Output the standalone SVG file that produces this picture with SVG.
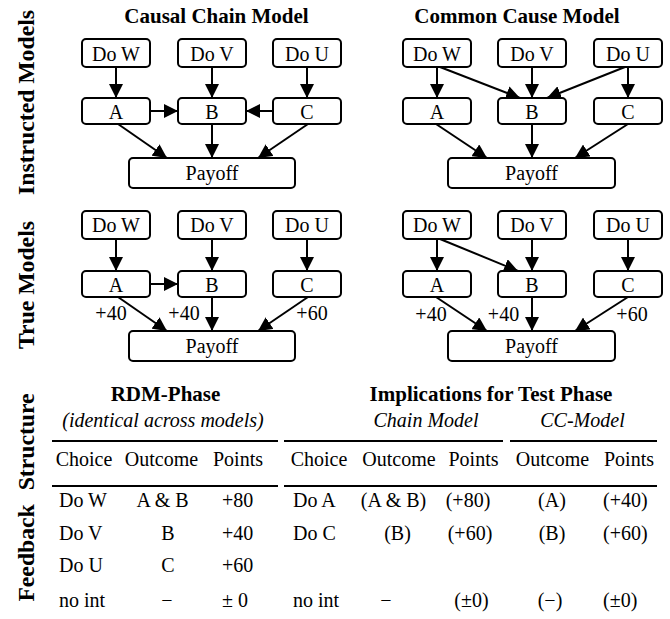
<svg xmlns="http://www.w3.org/2000/svg" width="670" height="619" viewBox="0 0 670 619" font-family="'Liberation Serif', 'Times New Roman', serif">
  <style>
    .box { fill: #fff; stroke: #000; stroke-width: 2; }
    .edge { fill: none; stroke: #000; stroke-width: 2; marker-end: url(#ah); }
    .rule { stroke: #000; stroke-width: 2.2; }
    text { font-family: 'Liberation Serif', 'Times New Roman', serif; fill: #000; }
    .n { font-size: 20px; }
    .title { font-size: 21px; font-weight: bold; }
    .side { font-size: 23.7px; font-weight: bold; text-anchor: middle; }
    .it { font-style: italic; }
    .c { text-anchor: middle; }
    .l { text-anchor: start; }
  </style>
  <defs>
    <marker id="ah" markerUnits="userSpaceOnUse" markerWidth="14" markerHeight="14" refX="14" refY="7" orient="auto">
      <path d="M0,0 L14,7 L0,14 z" fill="#000"/>
    </marker>
  </defs>

  <!-- row labels -->
  <g id="row-labels">
    <text class="side" transform="translate(33.5,102.5) rotate(-90)">Instructed Models</text>
    <text class="side" transform="translate(33.5,285) rotate(-90)">True Models</text>
    <text class="side" transform="translate(33.5,497.5) rotate(-90)" word-spacing="8">Feedback Structure</text>
  </g>

  <!-- column titles -->
  <g id="titles">
    <text class="title c" x="216.5" y="23">Causal Chain Model</text>
    <text class="title c" x="517" y="23">Common Cause Model</text>
  </g>

  <!-- connectors -->
  <g id="connectors">
    <!-- instructed causal chain -->
    <line class="edge" x1="116" y1="67" x2="116" y2="98"/>
    <line class="edge" x1="212" y1="67" x2="212" y2="98"/>
    <line class="edge" x1="307" y1="67" x2="307" y2="98"/>
    <line class="edge" x1="150" y1="111" x2="178" y2="111"/>
    <line class="edge" x1="273" y1="111" x2="246" y2="111"/>
    <line class="edge" x1="118" y1="124" x2="167" y2="158"/>
    <line class="edge" x1="212" y1="124" x2="212" y2="158"/>
    <line class="edge" x1="308" y1="124" x2="258" y2="158"/>
    <!-- instructed common cause -->
    <line class="edge" x1="437" y1="67" x2="437" y2="98"/>
    <line class="edge" x1="440" y1="67" x2="520" y2="98"/>
    <line class="edge" x1="532" y1="67" x2="532" y2="98"/>
    <line class="edge" x1="625" y1="67" x2="547" y2="98"/>
    <line class="edge" x1="628" y1="67" x2="628" y2="98"/>
    <line class="edge" x1="436" y1="124" x2="487" y2="158"/>
    <line class="edge" x1="532" y1="124" x2="532" y2="158"/>
    <line class="edge" x1="628" y1="124" x2="575" y2="158"/>
    <!-- true causal chain -->
    <line class="edge" x1="116" y1="239" x2="116" y2="271"/>
    <line class="edge" x1="212" y1="239" x2="212" y2="271"/>
    <line class="edge" x1="307" y1="239" x2="307" y2="271"/>
    <line class="edge" x1="150" y1="284" x2="178" y2="284"/>
    <line class="edge" x1="118" y1="297" x2="167" y2="331"/>
    <line class="edge" x1="212" y1="297" x2="212" y2="331"/>
    <line class="edge" x1="308" y1="297" x2="258" y2="331"/>
    <!-- true common cause -->
    <line class="edge" x1="437" y1="239" x2="437" y2="271"/>
    <line class="edge" x1="440" y1="239" x2="518" y2="271"/>
    <line class="edge" x1="532" y1="239" x2="532" y2="271"/>
    <line class="edge" x1="628" y1="239" x2="628" y2="271"/>
    <line class="edge" x1="436" y1="297" x2="487" y2="331"/>
    <line class="edge" x1="532" y1="297" x2="532" y2="331"/>
    <line class="edge" x1="628" y1="297" x2="575" y2="331"/>
    <!-- payoff weights -->
    <text class="n c" x="111" y="320">+40</text>
    <text class="n c" x="184" y="320">+40</text>
    <text class="n c" x="312" y="320">+60</text>
    <text class="n c" x="431" y="321">+40</text>
    <text class="n c" x="503.5" y="321">+40</text>
    <text class="n c" x="632" y="321">+60</text>
  </g>

  <!-- instructed causal chain nodes -->
  <g id="ic-dow"><rect class="box" x="82" y="39" width="68" height="28" rx="4"/><text class="n c" x="116" y="60.5">Do W</text></g>
  <g id="ic-dov"><rect class="box" x="178" y="39" width="68" height="28" rx="4"/><text class="n c" x="212" y="60.5">Do V</text></g>
  <g id="ic-dou"><rect class="box" x="273" y="39" width="68" height="28" rx="4"/><text class="n c" x="307" y="60.5">Do U</text></g>
  <g id="ic-a"><rect class="box" x="82" y="98" width="68" height="26" rx="4"/><text class="n c" x="116" y="119">A</text></g>
  <g id="ic-b"><rect class="box" x="178" y="98" width="68" height="26" rx="4"/><text class="n c" x="212" y="119">B</text></g>
  <g id="ic-c"><rect class="box" x="273" y="98" width="68" height="26" rx="4"/><text class="n c" x="307" y="119">C</text></g>
  <g id="ic-payoff"><rect class="box" x="129" y="158" width="166" height="30" rx="4"/><text class="n c" x="212" y="180">Payoff</text></g>

  <!-- instructed common cause nodes -->
  <g id="icc-dow"><rect class="box" x="403" y="39" width="68" height="28" rx="4"/><text class="n c" x="437" y="60.5">Do W</text></g>
  <g id="icc-dov"><rect class="box" x="498" y="39" width="68" height="28" rx="4"/><text class="n c" x="532" y="60.5">Do V</text></g>
  <g id="icc-dou"><rect class="box" x="594" y="39" width="68" height="28" rx="4"/><text class="n c" x="628" y="60.5">Do U</text></g>
  <g id="icc-a"><rect class="box" x="403" y="98" width="68" height="26" rx="4"/><text class="n c" x="437" y="119">A</text></g>
  <g id="icc-b"><rect class="box" x="498" y="98" width="68" height="26" rx="4"/><text class="n c" x="532" y="119">B</text></g>
  <g id="icc-c"><rect class="box" x="594" y="98" width="68" height="26" rx="4"/><text class="n c" x="628" y="119">C</text></g>
  <g id="icc-payoff"><rect class="box" x="448" y="158" width="167" height="30" rx="4"/><text class="n c" x="531.5" y="180">Payoff</text></g>

  <!-- true causal chain nodes -->
  <g id="tc-dow"><rect class="box" x="82" y="211" width="68" height="28" rx="4"/><text class="n c" x="116" y="232">Do W</text></g>
  <g id="tc-dov"><rect class="box" x="178" y="211" width="68" height="28" rx="4"/><text class="n c" x="212" y="232">Do V</text></g>
  <g id="tc-dou"><rect class="box" x="273" y="211" width="68" height="28" rx="4"/><text class="n c" x="307" y="232">Do U</text></g>
  <g id="tc-a"><rect class="box" x="82" y="271" width="68" height="26" rx="4"/><text class="n c" x="116" y="291.5">A</text></g>
  <g id="tc-b"><rect class="box" x="178" y="271" width="68" height="26" rx="4"/><text class="n c" x="212" y="291.5">B</text></g>
  <g id="tc-c"><rect class="box" x="273" y="271" width="68" height="26" rx="4"/><text class="n c" x="307" y="291.5">C</text></g>
  <g id="tc-payoff"><rect class="box" x="129" y="331" width="166" height="30" rx="4"/><text class="n c" x="212" y="353">Payoff</text></g>

  <!-- true common cause nodes -->
  <g id="tcc-dow"><rect class="box" x="403" y="211" width="68" height="28" rx="4"/><text class="n c" x="437" y="232">Do W</text></g>
  <g id="tcc-dov"><rect class="box" x="498" y="211" width="68" height="28" rx="4"/><text class="n c" x="532" y="232">Do V</text></g>
  <g id="tcc-dou"><rect class="box" x="594" y="211" width="68" height="28" rx="4"/><text class="n c" x="628" y="232">Do U</text></g>
  <g id="tcc-a"><rect class="box" x="403" y="271" width="68" height="26" rx="4"/><text class="n c" x="437" y="291.5">A</text></g>
  <g id="tcc-b"><rect class="box" x="498" y="271" width="68" height="26" rx="4"/><text class="n c" x="532" y="291.5">B</text></g>
  <g id="tcc-c"><rect class="box" x="594" y="271" width="68" height="26" rx="4"/><text class="n c" x="628" y="291.5">C</text></g>
  <g id="tcc-payoff"><rect class="box" x="448" y="331" width="167" height="30" rx="4"/><text class="n c" x="531.5" y="353">Payoff</text></g>

  <!-- feedback tables -->
  <g id="table-rdm">
    <text class="title c" x="165.5" y="401">RDM-Phase</text>
    <text class="n it c" x="163" y="427">(identical across models)</text>
    <line class="rule" x1="52" y1="441" x2="278" y2="441"/>
    <text class="n c" x="84" y="466">Choice</text>
    <text class="n c" x="161.5" y="466">Outcome</text>
    <text class="n c" x="238" y="466">Points</text>
    <line class="rule" x1="52" y1="486" x2="278" y2="486"/>
    <text class="n l" x="59" y="507">Do W</text>
    <text class="n c" x="162.5" y="507">A &amp; B</text>
    <text class="n l" x="222" y="507">+80</text>
    <text class="n l" x="59" y="540">Do V</text>
    <text class="n c" x="168" y="540">B</text>
    <text class="n l" x="222" y="540">+40</text>
    <text class="n l" x="59" y="572">Do U</text>
    <text class="n c" x="168" y="572">C</text>
    <text class="n l" x="222" y="572">+60</text>
    <text class="n l" x="59" y="607">no int</text>
    <text class="n c" x="167" y="607">−</text>
    <text class="n l" x="222" y="607">± 0</text>
  </g>

  <g id="table-test">
    <text class="title c" x="491" y="401">Implications for Test Phase</text>
    <text class="n it c" x="426" y="427">Chain Model</text>
    <text class="n it c" x="582.5" y="427">CC-Model</text>
    <line class="rule" x1="284" y1="441" x2="503" y2="441"/>
    <line class="rule" x1="510" y1="441" x2="657" y2="441"/>
    <text class="n c" x="319" y="466">Choice</text>
    <text class="n c" x="399" y="466">Outcome</text>
    <text class="n c" x="473.5" y="466">Points</text>
    <text class="n c" x="552.5" y="466">Outcome</text>
    <text class="n c" x="629" y="466">Points</text>
    <line class="rule" x1="284" y1="486" x2="657" y2="486"/>
    <text class="n l" x="293" y="507">Do A</text>
    <text class="n c" x="393.5" y="507">(A &amp; B)</text>
    <text class="n c" x="468" y="507">(+80)</text>
    <text class="n c" x="552" y="507">(A)</text>
    <text class="n l" x="603" y="507">(+40)</text>
    <text class="n l" x="293" y="540">Do C</text>
    <text class="n c" x="397.5" y="540">(B)</text>
    <text class="n c" x="470" y="540">(+60)</text>
    <text class="n c" x="552" y="540">(B)</text>
    <text class="n l" x="603" y="540">(+60)</text>
    <text class="n l" x="293" y="607">no int</text>
    <text class="n c" x="386" y="607">−</text>
    <text class="n c" x="471.5" y="607">(±0)</text>
    <text class="n c" x="550" y="607">(−)</text>
    <text class="n l" x="603" y="607">(±0)</text>
  </g>
</svg>
